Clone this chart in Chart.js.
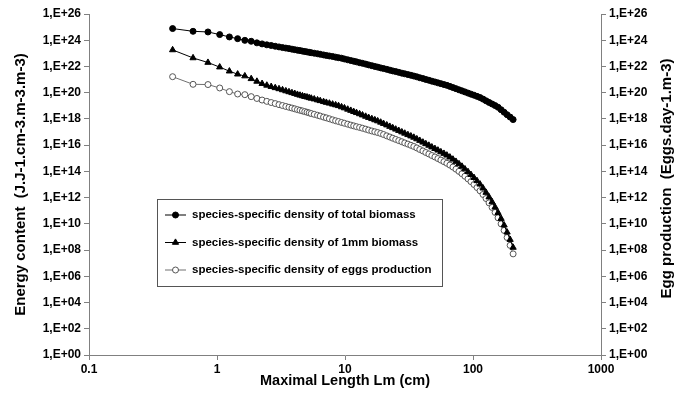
<!DOCTYPE html>
<html>
<head>
<meta charset="utf-8">
<script src="https://cdn.jsdelivr.net/npm/chart.js@4.4.1/dist/chart.umd.min.js"></script>
<style>
  html, body { margin: 0; padding: 0; background: #fff; }
  #wrap { width: 678px; height: 404px; }
</style>
</head>
<body>
<div id="wrap"><canvas id="chart" width="678" height="404"></canvas></div>
<script>
// Maximal length Lm (cm) of each point
const lengths = [
  0.45, 0.65, 0.85, 1.05, 1.25, 1.45, 1.65, 1.85, 2.05, 2.25,
  2.45, 2.65, 2.85, 3.05, 3.25, 3.45, 3.65, 3.85, 4.05, 4.25,
  4.45, 4.65, 4.85, 5.05, 5.25, 5.45,
  5.75, 6.1, 6.4, 6.8, 7.15, 7.55, 8, 8.45, 8.9, 9.4,
  9.9, 10.5, 11.1, 11.7, 12.3, 13, 13.7, 14.5, 15.3, 16.2,
  17.1, 18, 19, 20, 21.2, 22.4, 23.6, 24.9, 26.3, 27.8,
  29.3, 31, 32.7, 34.5, 36.4, 38.4, 40.6, 42.8, 45.2, 47.7,
  50.4, 53.2, 56.1, 59.3, 62.5, 66, 69.7, 73.6, 77.7, 82,
  86.5, 91.4, 96.4, 101.8, 107.5, 113.5, 119.8, 126.5, 133.5, 141,
  148.8, 157, 165.8, 175, 184.7, 195, 205.8
];

// log10 of each density (values span 26 decades)
const totalBiomassExp = [
  24.89, 24.68, 24.63, 24.43, 24.25, 24.12, 23.99, 23.92, 23.80, 23.72,
  23.65, 23.60, 23.54, 23.49, 23.44, 23.40, 23.36, 23.32, 23.28, 23.24,
  23.21, 23.17, 23.14, 23.11, 23.08, 23.05,
  23.01, 22.97, 22.93, 22.88, 22.84, 22.80, 22.76, 22.71, 22.67, 22.63,
  22.57, 22.51, 22.45, 22.40, 22.35, 22.29, 22.24, 22.18, 22.12, 22.06,
  22.00, 21.95, 21.89, 21.84, 21.78, 21.72, 21.66, 21.61, 21.55, 21.49,
  21.44, 21.38, 21.33, 21.27, 21.21, 21.14, 21.08, 21.01, 20.95, 20.88,
  20.82, 20.75, 20.69, 20.62, 20.56, 20.48, 20.39, 20.31, 20.22, 20.14,
  20.06, 19.97, 19.89, 19.81, 19.72, 19.63, 19.51, 19.38, 19.26, 19.14,
  19.02, 18.89, 18.70, 18.51, 18.32, 18.14, 17.95
];
const biomass1mmExp = [
  23.26, 22.65, 22.30, 21.95, 21.64, 21.41, 21.27, 21.06, 20.86, 20.69,
  20.56, 20.46, 20.37, 20.29, 20.21, 20.13, 20.06, 19.99, 19.93, 19.86,
  19.80, 19.75, 19.70, 19.66, 19.61, 19.57,
  19.51, 19.44, 19.38, 19.31, 19.25, 19.19, 19.12, 19.06, 19.00, 18.91,
  18.83, 18.73, 18.64, 18.55, 18.47, 18.38, 18.29, 18.19, 18.10, 18.01,
  17.92, 17.84, 17.74, 17.64, 17.53, 17.42, 17.32, 17.21, 17.11, 17.00,
  16.90, 16.79, 16.69, 16.59, 16.47, 16.35, 16.22, 16.10, 15.98, 15.85,
  15.73, 15.61, 15.48, 15.36, 15.23, 15.08, 14.92, 14.75, 14.57, 14.38,
  14.18, 13.97, 13.75, 13.52, 13.28, 13.02, 12.72, 12.39, 12.04, 11.67,
  11.27, 10.85, 10.40, 9.90, 9.36, 8.80, 8.20
];
const eggProductionExp = [
  21.22, 20.64, 20.62, 20.36, 20.08, 19.90, 19.85, 19.70, 19.56, 19.44,
  19.34, 19.25, 19.17, 19.09, 19.02, 18.95, 18.89, 18.83, 18.77, 18.71,
  18.66, 18.61, 18.56, 18.51, 18.46, 18.41,
  18.35, 18.28, 18.22, 18.14, 18.08, 18.01, 17.93, 17.86, 17.80, 17.73,
  17.67, 17.60, 17.53, 17.47, 17.41, 17.35, 17.29, 17.22, 17.15, 17.08,
  17.02, 16.96, 16.89, 16.81, 16.71, 16.62, 16.53, 16.44, 16.35, 16.26,
  16.17, 16.08, 15.99, 15.90, 15.79, 15.67, 15.56, 15.44, 15.33, 15.21,
  15.10, 14.98, 14.86, 14.74, 14.62, 14.48, 14.33, 14.17, 14.00, 13.82,
  13.63, 13.43, 13.22, 13.00, 12.77, 12.52, 12.24, 11.93, 11.60, 11.25,
  10.87, 10.46, 10.00, 9.50, 8.96, 8.36, 7.71
];

const seriesLabels = [
  'species-specific density of total biomass',
  'species-specific density of 1mm biomass',
  'species-specific density of eggs production'
];

const xTicks = [0.1, 1, 10, 100, 1000];
const yTicks = [1e0, 1e2, 1e4, 1e6, 1e8, 1e10, 1e12, 1e14, 1e16, 1e18, 1e20, 1e22, 1e24, 1e26];

const xTitle = 'Maximal Length Lm (cm)';
const yTitle = 'Energy content  (J.J-1.cm-3.m-3.m-3)';
const y2Title = 'Egg production  (Eggs.day-1.m-3)';

const FONT = '"Liberation Sans", Arial, sans-serif';
const AXIS_GREY = '#808080';

function toPoints(exps) {
  return lengths.map((len, i) => ({ x: len, y: Math.pow(10, exps[i]) }));
}

function sciLabel(v) {
  const e = Math.round(Math.log10(v));
  return '1,E+' + String(e).padStart(2, '0');
}

Chart.defaults.font.family = FONT;
Chart.defaults.color = '#000';

// axis titles and the boxed legend inside the plot
const chartDecor = {
  id: 'chartDecor',
  afterDraw(chart) {
    const { ctx, chartArea } = chart;
    const midY = (chartArea.top + chartArea.bottom) / 2;
    const midX = (chartArea.left + chartArea.right) / 2;

    ctx.save();
    ctx.fillStyle = '#000';
    ctx.textAlign = 'center';
    ctx.textBaseline = 'middle';
    ctx.font = 'bold 15px ' + FONT;

    ctx.save();
    ctx.translate(21, midY);
    ctx.rotate(-Math.PI / 2);
    ctx.fillText(yTitle, 0, 0);
    ctx.restore();

    ctx.save();
    ctx.translate(667, midY - 6);
    ctx.rotate(-Math.PI / 2);
    ctx.fillText(y2Title, 0, 0);
    ctx.restore();

    ctx.font = 'bold 14.5px ' + FONT;
    ctx.fillText(xTitle, midX, 381);

    // legend
    const lx = chartArea.left + 68, ly = chartArea.top + 185;
    const lw = 285, lh = 87;
    ctx.fillStyle = '#fff';
    ctx.fillRect(lx, ly, lw, lh);
    ctx.strokeStyle = '#555';
    ctx.lineWidth = 1;
    ctx.strokeRect(lx + 0.5, ly + 0.5, lw, lh);

    ctx.font = 'bold 11.5px ' + FONT;
    ctx.textAlign = 'left';
    chart.data.datasets.forEach((ds, i) => {
      const cy = ly + 16 + i * 27.5;
      ctx.strokeStyle = ds.borderColor;
      ctx.lineWidth = 1;
      ctx.beginPath();
      ctx.moveTo(lx + 8, cy);
      ctx.lineTo(lx + 29, cy);
      ctx.stroke();
      ctx.fillStyle = ds.pointBackgroundColor;
      ctx.strokeStyle = ds.pointBorderColor;
      Chart.helpers.drawPoint(ctx, {
        pointStyle: ds.pointStyle,
        radius: ds.pointRadius,
        borderWidth: 1,
        rotation: 0
      }, lx + 18.5, cy);
      ctx.fillStyle = '#000';
      ctx.fillText(ds.label, lx + 35, cy);
    });
    ctx.restore();
  }
};

const tickFont = { size: 12, weight: 'bold', family: FONT };

new Chart(document.getElementById('chart'), {
  type: 'line',
  data: {
    datasets: [
      {
        label: seriesLabels[0],
        data: toPoints(totalBiomassExp),
        borderColor: '#000',
        borderWidth: 1,
        pointStyle: 'circle',
        pointRadius: 3,
        pointBackgroundColor: '#000',
        pointBorderColor: '#000',
        pointBorderWidth: 1
      },
      {
        label: seriesLabels[1],
        data: toPoints(biomass1mmExp),
        borderColor: '#000',
        borderWidth: 1,
        pointStyle: 'triangle',
        pointRadius: 3.6,
        pointBackgroundColor: '#000',
        pointBorderColor: '#000',
        pointBorderWidth: 1
      },
      {
        label: seriesLabels[2],
        data: toPoints(eggProductionExp),
        borderColor: '#707070',
        borderWidth: 1,
        pointStyle: 'circle',
        pointRadius: 3,
        pointBackgroundColor: '#fff',
        pointBorderColor: '#555',
        pointBorderWidth: 1
      }
    ]
  },
  options: {
    responsive: false,
    animation: false,
    devicePixelRatio: 1,
    layout: { padding: { top: 14, left: 0, right: 0, bottom: 0 } },
    plugins: {
      legend: { display: false },
      tooltip: { enabled: false }
    },
    elements: { line: { tension: 0 } },
    scales: {
      x: {
        type: 'logarithmic',
        min: 0.1,
        max: 1000,
        afterBuildTicks: s => { s.ticks = xTicks.map(v => ({ value: v })); },
        afterFit: s => { s.height = 49; },
        border: { display: true, color: AXIS_GREY, width: 1 },
        grid: { display: true, drawOnChartArea: false, drawTicks: true, tickLength: 5, color: AXIS_GREY },
        ticks: {
          font: tickFont,
          padding: 2,
          maxRotation: 0,
          autoSkip: false,
          callback: v => String(v)
        }
      },
      y: {
        type: 'logarithmic',
        position: 'left',
        min: 1,
        max: 1e26,
        afterBuildTicks: s => { s.ticks = yTicks.map(v => ({ value: v })); },
        afterFit: s => { s.width = 89; },
        border: { display: true, color: AXIS_GREY, width: 1 },
        grid: { display: true, drawOnChartArea: false, drawTicks: true, tickLength: 5, color: AXIS_GREY },
        ticks: { font: tickFont, padding: 3, autoSkip: false, callback: sciLabel }
      },
      y2: {
        type: 'logarithmic',
        position: 'right',
        min: 1,
        max: 1e26,
        afterBuildTicks: s => { s.ticks = yTicks.map(v => ({ value: v })); },
        afterFit: s => { s.width = 77; },
        border: { display: true, color: AXIS_GREY, width: 1 },
        grid: { display: true, drawOnChartArea: false, drawTicks: true, tickLength: 5, color: AXIS_GREY },
        ticks: { font: tickFont, padding: 3, autoSkip: false, callback: sciLabel }
      }
    }
  },
  plugins: [chartDecor]
});
</script>
</body>
</html>
